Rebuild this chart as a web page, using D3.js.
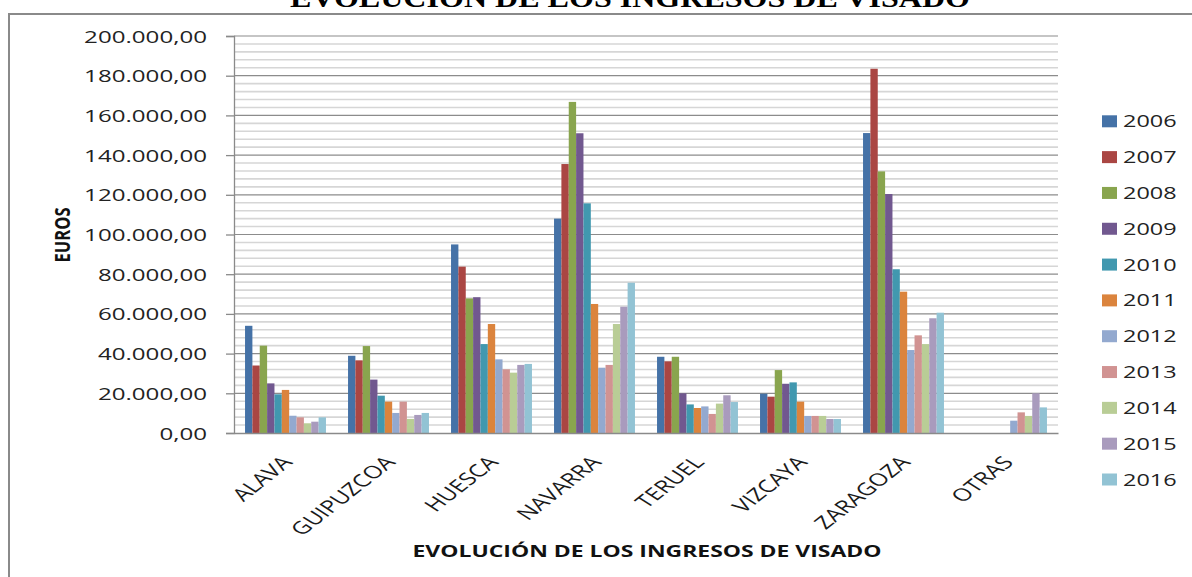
<!DOCTYPE html>
<html>
<head>
<meta charset="utf-8">
<script src="https://cdn.jsdelivr.net/npm/d3@7"></script>
<style>
  html, body { margin: 0; padding: 0; background: #ffffff; }
  svg { display: block; }
</style>
</head>
<body>
<svg id="chart" width="1192" height="577"></svg>
<script>
// ---------- DATA ----------
const categories = ["ALAVA", "GUIPUZCOA", "HUESCA", "NAVARRA", "TERUEL", "VIZCAYA", "ZARAGOZA", "OTRAS"];
const years = ["2006", "2007", "2008", "2009", "2010", "2011", "2012", "2013", "2014", "2015", "2016"];
const s2006 = [54000, 38900, 95000, 108000, 38400, 19800, 151100, null];
const s2007 = [34000, 36600, 83800, 135500, 36100, 18300, 183500, null];
const s2008 = [44000, 43800, 67800, 166800, 38400, 31700, 131800, null];
const s2009 = [25000, 26900, 68400, 151000, 20000, 24800, 120400, null];
const s2010 = [19500, 18800, 44800, 115700, 14400, 25500, 82500, null];
const s2011 = [21700, 15800, 54900, 65000, 12600, 15800, 71200, null];
const s2012 = [8700, 10100, 37100, 32900, 13400, 8600, 41800, 6200];
const s2013 = [7900, 15800, 32100, 34300, 9600, 8600, 49200, 10400];
const s2014 = [4900, 7100, 30400, 54900, 14800, 8600, 44800, 8600];
const s2015 = [5700, 9100, 34300, 63600, 19000, 7050, 57800, 20000];
const s2016 = [7900, 10100, 34800, 75700, 15600, 7050, 60600, 12900];
const yTicks = [0, 20000, 40000, 60000, 80000, 100000, 120000, 140000, 160000, 180000, 200000];
const chartTitle = "EVOLUCIÓN DE LOS INGRESOS DE VISADO";
const xTitle = "EVOLUCIÓN DE LOS INGRESOS DE VISADO";
const yTitle = "EUROS";
const colors = ["#4572A7", "#AA4643", "#89A54E", "#71588F", "#4198AF", "#DB843D",
                "#93A9CF", "#D19392", "#B9CD96", "#A99BBD", "#92C3D4"];

const seriesList = [s2006, s2007, s2008, s2009, s2010, s2011, s2012, s2013, s2014, s2015, s2016];
const table = [];
categories.forEach((c, ci) => {
  years.forEach((y, yi) => {
    const v = seriesList[yi][ci];
    if (v != null) table.push({cat: c, year: y, value: v});
  });
});

// ---------- LAYOUT ----------
const svg = d3.select("#chart");
const plot = {left: 234, right: 1058, top: 36, bottom: 433};
const SX = 1.42; // horizontal stretch of the reference text

const locale = d3.formatLocale({decimal: ",", thousands: ".", grouping: [3], currency: ["", "€"]});
const fmt = locale.format(",.2f");

const x0 = d3.scaleBand().domain(categories).range([plot.left, plot.right]).paddingInner(0).paddingOuter(0);
const x1 = d3.scaleBand().domain(years).range([0, x0.bandwidth()]).paddingInner(0).paddingOuter(1.5);
const y = d3.scaleLinear().domain([0, 200000]).range([plot.bottom, plot.top]);
const color = d3.scaleOrdinal().domain(years).range(colors);

// frame
svg.append("rect")
  .attr("x", 9).attr("y", 14).attr("width", 1200).attr("height", 600)
  .attr("fill", "#ffffff").attr("stroke", "#8a8a8a").attr("stroke-width", 2);

// top title (mostly cut off at the top)
svg.append("text")
  .attr("x", 630).attr("y", 7)
  .attr("text-anchor", "middle")
  .attr("font-family", "Liberation Serif, serif")
  .attr("font-weight", "bold")
  .attr("font-size", 28)
  .attr("textLength", 680).attr("lengthAdjust", "spacingAndGlyphs")
  .attr("fill", "#000")
  .text(chartTitle);

// minor gridlines
const minorTicks = d3.range(0, 200001, 4000).filter(v => v % 20000 !== 0);
svg.append("g").selectAll("line").data(minorTicks).join("line")
  .attr("x1", plot.left).attr("x2", plot.right)
  .attr("y1", d => y(d)).attr("y2", d => y(d))
  .attr("stroke", "#d6d6d6").attr("stroke-width", 1.6);

// major gridlines
svg.append("g").selectAll("line").data(yTicks.filter(v => v > 0)).join("line")
  .attr("x1", plot.left).attr("x2", plot.right)
  .attr("y1", d => y(d)).attr("y2", d => y(d))
  .attr("stroke", "#8c8c8c").attr("stroke-width", 1.2);

// bars
svg.append("g").selectAll("rect").data(table).join("rect")
  .attr("x", d => x0(d.cat) + x1(d.year))
  .attr("width", x1.bandwidth())
  .attr("y", d => y(d.value))
  .attr("height", d => y(0) - y(d.value))
  .attr("fill", d => color(d.year));

// y axis
const yAxis = d3.axisLeft(y).tickValues(yTicks).tickSize(8).tickFormat(fmt);
const gy = svg.append("g").attr("transform", `translate(${plot.left},0)`).call(yAxis);
gy.select(".domain").attr("stroke", "#8a8a8a").attr("stroke-width", 1.3);
gy.selectAll(".tick line").attr("stroke", "#8a8a8a").attr("stroke-width", 1.3);
gy.selectAll(".tick text")
  .attr("x", 0).attr("dy", null).attr("dominant-baseline", null)
  .attr("font-family", "Open Sans, sans-serif")
  .attr("font-size", 17)
  .attr("fill", "#222")
  .attr("text-anchor", "end")
  .attr("transform", `translate(-27,6) scale(${SX},1)`);

// x axis
const xAxis = d3.axisBottom(x0).tickSize(0).tickSizeOuter(0);
const gx = svg.append("g").attr("transform", `translate(0,${plot.bottom})`).call(xAxis);
gx.select(".domain").attr("stroke", "#8a8a8a").attr("stroke-width", 1.3);
gx.selectAll(".tick text")
  .attr("x", 0).attr("y", 0).attr("dy", null)
  .attr("font-family", "Open Sans, sans-serif")
  .attr("font-size", 17.5)
  .attr("fill", "#1a1a1a")
  .attr("text-anchor", "end")
  .attr("transform", `translate(8,30) scale(${SX},1) rotate(-48)`);

// axis titles
svg.append("text")
  .attr("x", 647).attr("y", 557)
  .attr("text-anchor", "middle")
  .attr("font-family", "Open Sans, sans-serif")
  .attr("font-weight", "bold")
  .attr("font-size", 16.5)
  .attr("textLength", 469).attr("lengthAdjust", "spacingAndGlyphs")
  .attr("fill", "#111")
  .text(xTitle);

svg.append("text")
  .attr("transform", `translate(70,235) scale(${SX},1) rotate(-90)`)
  .attr("text-anchor", "middle")
  .attr("font-family", "Open Sans, sans-serif")
  .attr("font-weight", "bold")
  .attr("font-size", 15.5)
  .attr("textLength", 55).attr("lengthAdjust", "spacingAndGlyphs")
  .attr("fill", "#111")
  .text(yTitle);

// legend
const ly = d3.scalePoint().domain(years).range([121.3, 479.5]);
const lg = svg.append("g").selectAll("g").data(years).join("g")
  .attr("transform", d => `translate(1102,${ly(d)})`);
lg.append("rect")
  .attr("x", 0).attr("y", -6).attr("width", 15).attr("height", 12)
  .attr("fill", d => color(d));
lg.append("text")
  .attr("font-family", "Open Sans, sans-serif")
  .attr("font-size", 16.5)
  .attr("fill", "#222")
  .attr("transform", `translate(21,6) scale(${SX},1)`)
  .text(d => d);
</script>
</body>
</html>
